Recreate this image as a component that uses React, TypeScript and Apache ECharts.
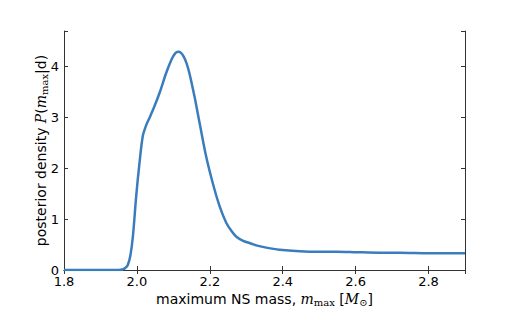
import React, { useEffect, useRef } from "react";
import * as echarts from "echarts";

const massValues = [1.8, 1.9, 1.95, 1.96, 1.968, 1.975, 1.982, 1.989, 1.998, 2.007, 2.016, 2.025, 2.035, 2.047, 2.062, 2.08, 2.095, 2.105, 2.113, 2.121, 2.128, 2.136, 2.144, 2.158, 2.172, 2.19, 2.208, 2.227, 2.245, 2.26, 2.272, 2.29, 2.309, 2.33, 2.355, 2.391, 2.446, 2.5, 2.55, 2.602, 2.666, 2.72, 2.803, 2.85, 2.9];
const densityValues = [0, 0, 0, 0.01, 0.04, 0.1, 0.28, 0.66, 1.45, 2.1, 2.63, 2.84, 3.0, 3.2, 3.48, 3.87, 4.14, 4.26, 4.29, 4.27, 4.2, 4.07, 3.87, 3.41, 2.89, 2.23, 1.71, 1.25, 0.93, 0.76, 0.66, 0.58, 0.53, 0.48, 0.44, 0.4, 0.37, 0.36, 0.36, 0.35, 0.34, 0.34, 0.33, 0.33, 0.33];

const serif = "DejaVu Serif";
const sans = "DejaVu Sans";

export default function App() {
  const ref = useRef<HTMLDivElement>(null);
  useEffect(() => {
    if (!ref.current) return;
    const chart = echarts.init(ref.current, undefined, { renderer: "svg" });
    const data = massValues.map((m, i) => [m, densityValues[i]]);
    const axisColor = "#333";
    const common = {
      axisLine: { show: true, lineStyle: { color: axisColor, width: 1 } },
      splitLine: { show: false },
    };
    const rich = {
      t: { fontFamily: sans, fontSize: 14, color: "#000" },
      m: { fontFamily: serif, fontStyle: "italic", fontSize: 14, color: "#000" },
      s: { fontFamily: serif, fontSize: 10, color: "#000", padding: [6, 0, 0, 0] },
    };
    chart.setOption({
      animation: false,
      backgroundColor: "#fff",
      grid: { left: 64, top: 31, right: 52, bottom: 40, containLabel: false, outerBoundsMode: "none" },
      xAxis: [
        {
          type: "value",
          min: 1.8,
          max: 2.9,
          interval: 0.2,
          ...common,
          axisTick: { show: true, inside: true, length: 4, lineStyle: { color: axisColor } },
          axisLabel: {
            color: "#000",
            fontFamily: sans,
            fontSize: 13,
            margin: 5,
            showMaxLabel: false,
            formatter: (v: number) => v.toFixed(1),
          },
          name: "{t|maximum NS mass, }{m|m}{s|max}{t| [}{m|M}{s|⊙}{t|]}",
          nameLocation: "middle",
          nameGap: 21,
          nameMoveOverlap: false,
          nameTextStyle: { rich },
        },
        {
          type: "value",
          min: 1.8,
          max: 2.9,
          interval: 0.2,
          position: "top",
          ...common,
          axisTick: { show: true, inside: true, length: 4, lineStyle: { color: axisColor } },
          axisLabel: { show: false },
        },
      ],
      yAxis: [
        {
          type: "value",
          min: 0,
          max: 4.7,
          interval: 1,
          ...common,
          axisTick: { show: true, inside: true, length: 4, lineStyle: { color: axisColor } },
          axisLabel: {
            color: "#000",
            fontFamily: sans,
            fontSize: 13,
            margin: 5,
            formatter: (v: number) => (Number.isInteger(v) ? String(v) : ""),
          },
          name: "{t|posterior density }{m|P}{t|(}{m|m}{s|max}{t||d)}",
          nameLocation: "middle",
          nameGap: 15,
          nameRotate: 90,
          nameMoveOverlap: false,
          nameTextStyle: { rich },
        },
        {
          type: "value",
          min: 0,
          max: 4.7,
          interval: 1,
          position: "right",
          ...common,
          axisTick: { show: true, inside: true, length: 4, lineStyle: { color: axisColor } },
          axisLabel: { show: false },
        },
      ],
      series: [
        {
          type: "line",
          data,
          smooth: 0.3,
          showSymbol: false,
          symbol: "none",
          lineStyle: { color: "#3a7dbd", width: 2.5 },
        },
      ],
    });
    return () => chart.dispose();
  }, []);
  return (
    <div
      ref={ref}
      style={{ position: "fixed", left: 0, top: 0, width: 517, height: 310 }}
    />
  );
}
